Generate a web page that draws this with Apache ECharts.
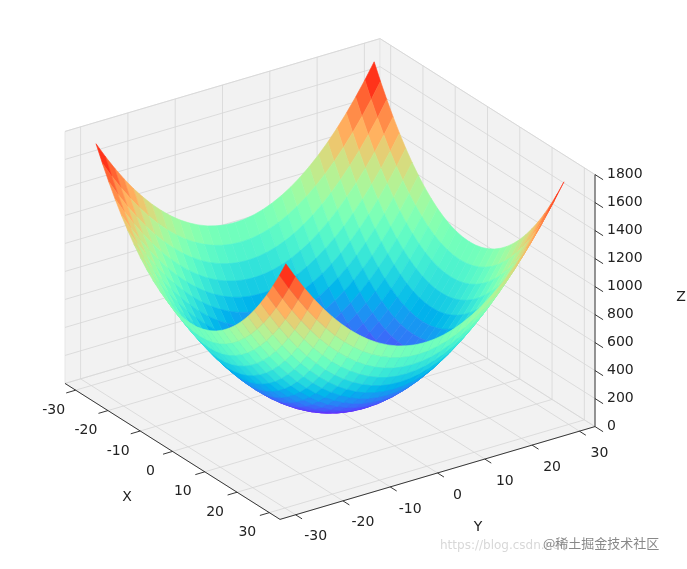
<!DOCTYPE html>
<html><head><meta charset="utf-8">
<script src="https://cdn.jsdelivr.net/npm/echarts@6/dist/echarts.min.js"></script>
<style>html,body{margin:0;background:#fff}#main{width:687px;height:569px}</style>
</head><body><div id="main"></div>
<script>
// surface grid (x, y samples) and axis ticks
var xs = [-30,-28,-26,-24,-22,-20,-18,-16,-14,-12,-10,-8,-6,-4,-2,0,2,4,6,8,10,12,14,16,18,20,22,24,26,28,30];
var ys = xs.slice();
var xTicks = [-30,-20,-10,0,10,20,30];
var yTicks = [-30,-20,-10,0,10,20,30];
var zTicks = [0,200,400,600,800,1000,1200,1400,1600,1800];
var zMax = 1800;
var B = 33.3;

// the plotted surface is z = x^2 + y^2
function surf(x,y){ return x*x + y*y; }

function proj(x,y,z){
	var u = x/B, w = y/B, t = z/zMax;
	var d = 0.829*u - 0.566*w;
	return [330 + 107.5*u + 157.5*w, 405 + 82*d - 252*t];
}
function depth(x,y){ return 0.829*x - 0.566*y; }

function rainbow(t){
	var r = Math.min(1, Math.abs(2*t - 0.5)), g = Math.sin(Math.PI*t), b = Math.cos(Math.PI*t/2);
	return 'rgb('+Math.round(r*255)+','+Math.round(g*255)+','+Math.round(b*255)+')';
}

// quads
var quads = [];
for(var i = 0; i < xs.length-1; i++){
	for(var j = 0; j < ys.length-1; j++){
		quads.push([i, j, depth((xs[i]+xs[i+1])/2, (ys[j]+ys[j+1])/2)]);
	}
}
quads.sort(function(a,b){ return a[2]-b[2]; });

// panes
var panes = [
	[[-B,-B,0],[B,-B,0],[B,B,0],[-B,B,0]],
	[[-B,-B,0],[-B,B,0],[-B,B,zMax],[-B,-B,zMax]],
	[[-B,B,0],[B,B,0],[B,B,zMax],[-B,B,zMax]]
];
// grid lines
var grid = [];
xTicks.forEach(function(x){ grid.push([[x,-B,0],[x,B,0]]); grid.push([[x,B,0],[x,B,zMax]]); });
yTicks.forEach(function(y){ grid.push([[-B,y,0],[B,y,0]]); grid.push([[-B,y,0],[-B,y,zMax]]); });
zTicks.forEach(function(z){ grid.push([[-B,-B,z],[-B,B,z]]); grid.push([[-B,B,z],[B,B,z]]); });
// axis edges + ticks
var axes = [[[-B,-B,0],[B,-B,0]], [[B,-B,0],[B,B,0]], [[B,B,0],[B,B,zMax]]];
xTicks.forEach(function(x){ axes.push([[x,-B,0],[x,-B-2,0]]); });
yTicks.forEach(function(y){ axes.push([[B,y,0],[B+2,y,0]]); });
zTicks.forEach(function(z){ axes.push([[B,B,z],[B+2.5,B,z]]); });
// labels
var labels = [];
xTicks.forEach(function(x){ var p = proj(x,-B,0); labels.push([p[0]-22, p[1]+20, String(x), 'center']); });
yTicks.forEach(function(y){ var p = proj(B,y,0); labels.push([p[0]+20, p[1]+22, String(y), 'center']); });
zTicks.forEach(function(z){ var p = proj(B,B,z); labels.push([p[0]+12, p[1], String(z), 'left']); });
labels.push([127,497,'X','center']);
labels.push([478,527,'Y','center']);
labels.push([681,297,'Z','center']);

function pts(api, arr){ return arr.map(function(p){ return api.coord(proj(p[0],p[1],p[2])); }); }

var chart = echarts.init(document.getElementById('main'));
chart.setOption({
	animation: false,
	grid: {left:0, right:0, top:0, bottom:0},
	xAxis: {type:'value', min:0, max:687, show:false},
	yAxis: {type:'value', min:0, max:569, inverse:true, show:false},
	series: [
		{type:'custom', data: panes.map(function(p,i){return [i];}), renderItem: function(params, api){
			return {type:'polygon', shape:{points: pts(api, panes[api.value(0)])}, style:{fill:'#f2f2f2', stroke:'#e6e6e6', lineWidth:1}};
		}},
		{type:'custom', data: grid.map(function(p,i){return [i];}), renderItem: function(params, api){
			var g = grid[api.value(0)];
			return {type:'polyline', shape:{points: pts(api, g)}, style:{stroke:'#d6d6d6', lineWidth:0.8, fill:null}};
		}},
		{type:'custom', data: axes.map(function(p,i){return [i];}), renderItem: function(params, api){
			return {type:'polyline', shape:{points: pts(api, axes[api.value(0)])}, style:{stroke:'#222', lineWidth:0.9, fill:null}};
		}},
		{type:'custom', data: quads, renderItem: function(params, api){
			var i = api.value(0), j = api.value(1);
			var c = [[xs[i],ys[j]],[xs[i+1],ys[j]],[xs[i+1],ys[j+1]],[xs[i],ys[j+1]]];
			var zsum = 0;
			var p = c.map(function(q){ var z = surf(q[0],q[1]); zsum += z; return api.coord(proj(q[0]*0.98, q[1]*0.98, z*0.95 + 20)); });
			var col = rainbow(zsum/4/zMax);
			return {type:'polygon', shape:{points:p}, style:{fill:col, stroke:col, lineWidth:0.6}};
		}},
		{type:'custom', data: labels.map(function(l,i){return [i];}), renderItem: function(params, api){
			var l = labels[api.value(0)];
			var c = api.coord([l[0], l[1]]);
			return {type:'text', x:c[0], y:c[1], style:{text:l[2], fill:'#222', font:'14px "DejaVu Sans"', textAlign:l[3], textVerticalAlign:'middle'}};
		}}
	],
	graphic: [
		{type:'text', left:440, top:540, style:{text:'https://blog.csdn.net/', fill:'#d8d8d8', font:'12px "DejaVu Sans"'}},
		{type:'text', left:543, top:537, style:{text:'@稀土掘金技术社区', fill:'#888', font:'13px "Noto Sans CJK SC"'}}
	]
});
</script>
</body></html>
